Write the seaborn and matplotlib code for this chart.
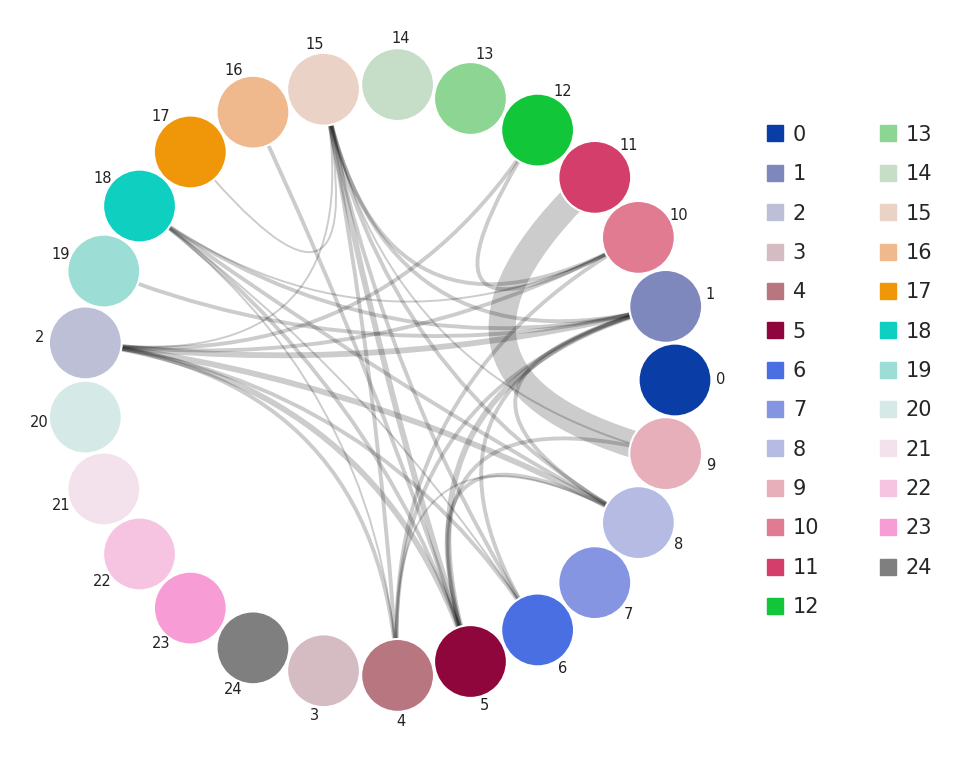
import numpy as np
import pandas as pd
import matplotlib
matplotlib.use("Agg")
import matplotlib.pyplot as plt
from matplotlib.path import Path
from matplotlib.patches import PathPatch
from matplotlib.lines import Line2D
import seaborn as sns

nodes = [str(i) for i in range(25)]
colors = ["#0a3ea6", "#7f88bd", "#bcbfd6", "#d5bbc2", "#b87680", "#8e063b", "#4a6fe3",
          "#8595e1", "#b5bbe3", "#e6afb9", "#e07b91", "#d33f6a", "#11c638", "#8dd593",
          "#c6dec7", "#ead3c6", "#f0b98d", "#ef9708", "#0fcfc0", "#9cded6", "#d5eae7",
          "#f3e1eb", "#f6c4e1", "#f79cd4", "#7f7f7f"]
edge_src = [9, 2, 2, 2, 2, 2, 2, 15, 15, 15, 15, 15, 15, 15, 18, 18, 18, 18, 18, 18,
            19, 16, 12, 12, 4, 4, 5, 5, 5, 6, 4, 8, 15, 17]
edge_dst = [11, 1, 10, 8, 5, 6, 4, 4, 5, 6, 8, 10, 1, 9, 1, 8, 5, 6, 4, 10,
            1, 5, 10, 2, 1, 10, 1, 9, 8, 1, 8, 1, 2, 15]
edge_w = [14, 3, 2, 3, 3, 2, 2, 2, 3, 2, 2, 2, 2, 1, 2, 2, 2, 1, 1, 1,
          2, 2, 2, 2, 2, 2, 3, 2, 2, 2, 1, 2, 1, 1]

sns.set_theme(style="white")
fig = plt.figure(figsize=(9.69, 7.61), dpi=100)
ax = fig.add_axes([0, 0, 1, 1])
ax.set_xlim(0, 969)
ax.set_ylim(761, 0)
ax.set_aspect("equal")
ax.axis("off")

order = sorted(nodes)  # string order around the circle
cx, cy, R = 379, 380, 296
ang = {n: 2 * np.pi * k / len(order) for k, n in enumerate(order)}
pos = {n: (cx + R * np.cos(a), cy - R * np.sin(a)) for n, a in ang.items()}

for s, d, w in zip(edge_src, edge_dst, edge_w):
    p0, p2 = pos[str(s)], pos[str(d)]
    path = Path([p0, (cx, cy), p2], [Path.MOVETO, Path.CURVE3, Path.CURVE3])
    ax.add_patch(PathPatch(path, fc="none", ec="black", alpha=0.2, lw=w * 1.4, zorder=1))

df = pd.DataFrame({"node": nodes, "x": [pos[n][0] for n in nodes], "y": [pos[n][1] for n in nodes]})
pal = dict(zip(nodes, colors))
sns.scatterplot(data=df, x="x", y="y", hue="node", palette=pal, s=2750, ax=ax,
                edgecolor="white", linewidth=1.5, legend=False, zorder=3)
ax.set_xlim(0, 969); ax.set_ylim(761, 0)

for n in nodes:
    a = ang[n]
    lx, ly = cx + 342 * np.cos(a), cy - 342 * np.sin(a)
    ax.text(lx, ly, n, fontsize=10.5, color="#222222", ha="center", va="center")

handles = [Line2D([], [], marker="s", ls="", color=c, markersize=11) for c in colors]
ax.legend(handles, nodes, ncol=2, frameon=False, loc="upper left",
          bbox_to_anchor=(748 / 969, 1 - 106 / 761), fontsize=15,
          handlelength=0.8, handletextpad=0.45, columnspacing=2.9, labelspacing=0.93)

fig.savefig("out.png", dpi=100)
